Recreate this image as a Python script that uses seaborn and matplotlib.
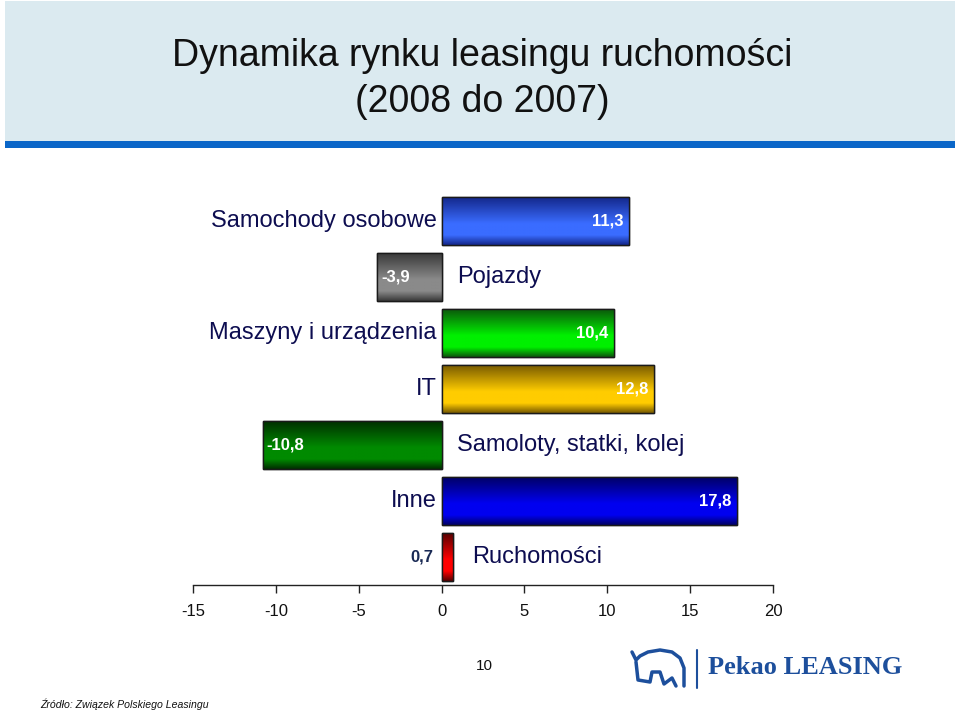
import numpy as np
import pandas as pd
import matplotlib
matplotlib.use("Agg")
import matplotlib.pyplot as plt
from matplotlib import font_manager
from matplotlib.colors import LinearSegmentedColormap
from matplotlib.patches import Rectangle
import seaborn as sns

# ---- data ----
categories = ["Samochody osobowe", "Pojazdy", "Maszyny i urządzenia", "IT",
              "Samoloty, statki, kolej", "Inne", "Ruchomości"]
values = [11.3, -3.9, 10.4, 12.8, -10.8, 17.8, 0.7]
value_labels = ["11,3", "-3,9", "10,4", "12,8", "-10,8", "17,8", "0,7"]
x_ticks = [-15, -10, -5, 0, 5, 10, 15, 20]
title = "Dynamika rynku leasingu ruchomości\n(2008 do 2007)"
source = "Źródło: Związek Polskiego Leasingu"
page_no = "10"

bright = ["#3a6cff", "#8a8a8a", "#00f000", "#ffcc00", "#008a00", "#0000f0", "#ff0000"]
dark = ["#14288c", "#3a3a3a", "#0b5a0b", "#7a5c00", "#003000", "#000068", "#5a0000"]

sns.set_theme(style="white")
names = {f.name for f in font_manager.fontManager.ttflist}
base = "Liberation Sans" if "Liberation Sans" in names else "DejaVu Sans"
narrow = "Liberation Sans Narrow" if "Liberation Sans Narrow" in names else base
plt.rcParams["font.family"] = [base, "DejaVu Sans"]

W, H = 960, 711
fig = plt.figure(figsize=(W / 100, H / 100), dpi=100)

# title band
fig.patches.append(Rectangle((5 / W, 1 - 141 / H), 950 / W, 140 / H, transform=fig.transFigure,
                             facecolor="#dbeaf0", edgecolor="none", zorder=0))
fig.patches.append(Rectangle((5 / W, 1 - 148 / H), 950 / W, 7 / H, transform=fig.transFigure,
                             facecolor="#0a66c8", edgecolor="none", zorder=0))
title_size = 30 if narrow != base else 27
fig.text(482 / W, 1 - 79 / H, title, ha="center", va="center", fontsize=title_size,
         family=[narrow, "DejaVu Sans"], color="#111111", linespacing=1.38)

ax = fig.add_axes([193 / W, 1 - 585 / H, 580 / W, 392 / H])
df = pd.DataFrame({"cat": categories, "val": values})
sns.barplot(data=df, x="val", y="cat", hue="cat", palette=bright, legend=False,
            orient="h", width=0.857, edgecolor="#222222", linewidth=1.0, ax=ax)

# gradient fill for each bar
for i, p in enumerate(ax.patches):
    x0, y0 = p.get_x(), p.get_y()
    w, h = p.get_width(), p.get_height()
    cmap = LinearSegmentedColormap.from_list(
        f"g{i}", [(0.0, dark[i]), (0.55, bright[i]), (0.8, bright[i]), (1.0, dark[i])])
    grad = np.linspace(0, 1, 64).reshape(-1, 1)
    xl, xr = min(x0, x0 + w), max(x0, x0 + w)
    im = ax.imshow(grad, cmap=cmap, aspect="auto", extent=[xl, xr, y0 + h, y0],
                   origin="upper", zorder=2, interpolation="bilinear")
    im.set_clip_path(p)
    ax.add_patch(Rectangle((xl, y0), xr - xl, h, fill=False, edgecolor="#1a1a1a",
                           linewidth=1.0, zorder=3))

ax.set_xlim(-15, 20)
ax.set_ylim(6.5, -0.5)
ax.set_xticks(x_ticks)
ax.set_xticklabels([str(t) for t in x_ticks], fontsize=12, color="#111111")
ax.set_yticks([])
ax.set_xlabel("")
ax.set_ylabel("")
for s in ["top", "right", "left"]:
    ax.spines[s].set_visible(False)
ax.spines["bottom"].set_color("#222222")
ax.spines["bottom"].set_linewidth(1.0)
ax.tick_params(axis="x", direction="out", length=6, width=1, color="#222222", bottom=True, pad=8)

label_color = "#0d0d50"
for i, (c, v, lab) in enumerate(zip(categories, values, value_labels)):
    if v >= 0 and v > 2:
        ax.text(-0.3, i, c, ha="right", va="center", fontsize=17, color=label_color)
        ax.annotate(lab, (v, i), xytext=(-4, 0), textcoords="offset points", ha="right",
                    va="center", fontsize=12, fontweight="bold", color="white", zorder=5)
    elif v >= 0:
        ax.text(v + 1.15, i, c, ha="left", va="center", fontsize=17, color=label_color)
        ax.annotate(lab, (0, i), xytext=(-6, 0), textcoords="offset points", ha="right",
                    va="center", fontsize=12, fontweight="bold", color="#1a2a55", zorder=5)
    else:
        ax.text(0.95, i, c, ha="left", va="center", fontsize=17, color=label_color)
        ax.annotate(lab, (v, i), xytext=(3, 0), textcoords="offset points", ha="left",
                    va="center", fontsize=12, fontweight="bold", color="white", zorder=5)

# footer
fig.text(484 / W, 1 - 666 / H, page_no, ha="center", va="center", fontsize=11, color="#111111")
fig.text(40 / W, 1 - 704 / H, source, ha="left", va="center", fontsize=7.6, style="italic",
         color="#111111")
serif = "Liberation Serif" if "Liberation Serif" in names else "DejaVu Serif"
fig.text(708 / W, 1 - 667 / H, "Pekao LEASING", ha="left", va="center", fontsize=19,
         fontweight="bold", family=serif, color="#1d4f9c")
fig.lines.append(plt.Line2D([697 / W, 697 / W], [1 - 650 / H, 1 - 688 / H],
                            transform=fig.transFigure, color="#1d4f9c", linewidth=1.5))
# simple bison emblem
bx = np.array([632, 636, 640, 648, 660, 672, 680, 684, 684])
by = np.array([652, 660, 656, 652, 650, 652, 658, 668, 686])
fig.lines.append(plt.Line2D(bx / W, 1 - by / H, transform=fig.transFigure,
                            color="#1d4f9c", linewidth=2.5))
bx2 = np.array([636, 638, 650, 652, 660, 664, 672, 676])
by2 = np.array([662, 680, 682, 672, 672, 684, 678, 686])
fig.lines.append(plt.Line2D(bx2 / W, 1 - by2 / H, transform=fig.transFigure,
                            color="#1d4f9c", linewidth=2.5))

fig.savefig("out.png", dpi=100)
